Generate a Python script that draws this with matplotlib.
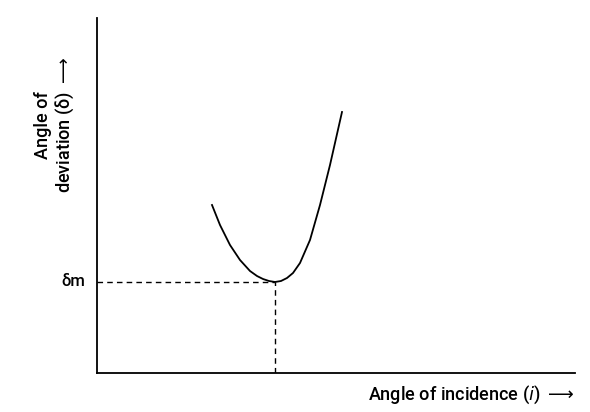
import matplotlib.pyplot as plt

plt.rcParams['font.family'] = ['Roboto', 'DejaVu Sans']
plt.rcParams['mathtext.fontset'] = 'dejavusans'

# curve (incidence, deviation) in arbitrary units
inc = [115, 123, 133, 143, 153, 160, 166, 172, 178, 184, 190, 196, 203, 213, 223, 233, 245]
dev = [168, 148, 128, 113, 102, 97, 94, 92, 91, 92, 95, 100, 110, 133, 168, 208, 261]
i_min, d_min = 178, 91

fig = plt.figure(figsize=(5.90, 4.12), dpi=100)
ax = fig.add_axes([97/590, 1-373/412, 478/590, 355/412])
ax.set_xlim(0, 478)
ax.set_ylim(0, 355)

ax.plot(inc, dev, color='black', lw=1.3)
ax.plot([0, i_min], [d_min, d_min], color='black', lw=1, ls=(0, (4, 3)))
ax.plot([i_min, i_min], [0, d_min], color='black', lw=1, ls=(0, (4, 3)))

for s in ['top', 'right']:
    ax.spines[s].set_visible(False)
for s in ['left', 'bottom']:
    ax.spines[s].set_linewidth(1.3)
ax.set_xticks([])
ax.set_yticks([])

ax.text(-12, d_min, 'δm', ha='right', va='center', fontsize=12, fontweight='medium')
fig.text(575/590, 1-395/412, r'Angle of incidence ($i$) $\longrightarrow$', ha='right',
         va='center', fontsize=13, fontweight='medium')
fig.text(55/590, 1-125/412, 'Angle of\n' + r'deviation (δ) $\longrightarrow$', ha='center',
         va='center', rotation=90, fontsize=13, linespacing=1.1, fontweight='medium')

fig.savefig('out.png', dpi=100)
